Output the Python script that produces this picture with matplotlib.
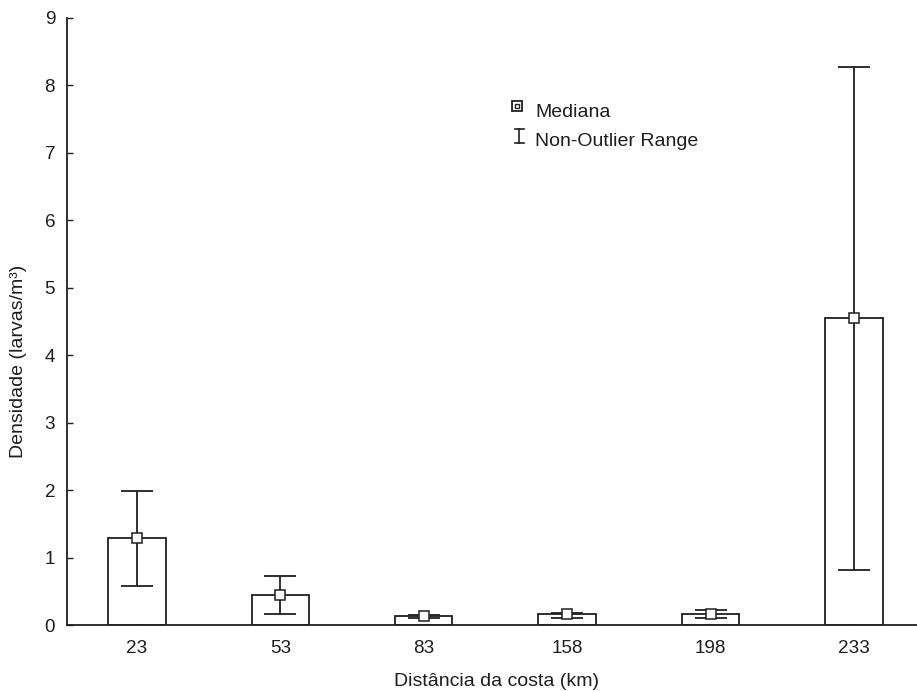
import matplotlib
matplotlib.use("Agg")
import matplotlib.pyplot as plt
import numpy as np

plt.rcParams['font.family'] = ['Liberation Sans', 'DejaVu Sans']

categories = ['23', '53', '83', '158', '198', '233']
medians = [1.29, 0.44, 0.13, 0.16, 0.16, 4.55]
range_low = [0.58, 0.17, 0.10, 0.10, 0.10, 0.82]
range_high = [1.99, 0.73, 0.15, 0.18, 0.22, 8.28]
y_ticks = [0, 1, 2, 3, 4, 5, 6, 7, 8, 9]

fig = plt.figure(figsize=(9.17, 6.91), dpi=100)
ax = fig.add_axes([67/917, 66/691, 850/917, 607/691])

x = np.arange(len(categories))
txt = '#1e1e1e'
ax.bar(x, medians, width=0.40, facecolor='white', edgecolor='#202020', linewidth=1.3, zorder=2)
med = np.array(medians)
ax.errorbar(x, med, yerr=[med - np.array(range_low), np.array(range_high) - med],
            fmt='none', ecolor='#202020', elinewidth=1.3, capsize=11.5, capthick=1.3, zorder=3)
ax.plot(x, med, linestyle='none', marker='s', markersize=6.5, markerfacecolor='white',
        markeredgecolor='#202020', markeredgewidth=1.1, zorder=4)

ax.set_xlim(-0.488, 5.44)
ax.set_ylim(0, 9)
ax.set_xticks(x)
ax.set_xticklabels(categories)
ax.set_yticks(y_ticks)
ax.tick_params(direction='in', length=4, width=1, labelsize=13.6, colors='#202020', labelcolor=txt)
ax.tick_params(axis='y', pad=8.5)
ax.tick_params(axis='x', pad=11)
for s in ['top', 'right']:
    ax.spines[s].set_visible(False)
for s in ['left', 'bottom']:
    ax.spines[s].set_linewidth(1.3)
    ax.spines[s].set_color('#202020')

ax.set_xlabel('Distância da costa (km)', fontsize=14, color=txt)
ax.xaxis.set_label_coords(0.505, -0.079)
ax.set_ylabel('Densidade (larvas/m³)', fontsize=14, color=txt)
ax.yaxis.set_label_coords(-0.047, 0.435)

# legend drawn manually
tr = ax.transAxes
lx = (517 - 67) / 850
def ay(py):
    return (625 - py) / 607
ax.plot([lx], [ay(106)], transform=tr, marker='s', markersize=7.4, markerfacecolor='white',
        markeredgecolor='#202020', markeredgewidth=1.3, clip_on=False)
ax.plot([lx], [ay(106)], transform=tr, marker='s', markersize=3.0, markerfacecolor='white',
        markeredgecolor='#202020', markeredgewidth=1.0, clip_on=False)
ix = (519 - 67) / 850
ax.plot([ix, ix], [ay(129), ay(143)], transform=tr, color='#202020', lw=1.2, clip_on=False)
ax.plot([ix - 4.5/850, ix + 4.5/850], [ay(129), ay(129)], transform=tr, color='#202020', lw=1.2, clip_on=False)
ax.plot([ix - 4.5/850, ix + 4.5/850], [ay(143), ay(143)], transform=tr, color='#202020', lw=1.2, clip_on=False)
tx = (535 - 67) / 850
ax.text(tx, ay(113), 'Mediana', transform=tr, fontsize=14, color=txt, va='center', ha='left')
ax.text(tx, ay(142), 'Non-Outlier Range', transform=tr, fontsize=14, color=txt, va='center', ha='left')

fig.savefig('out.png', dpi=100)
